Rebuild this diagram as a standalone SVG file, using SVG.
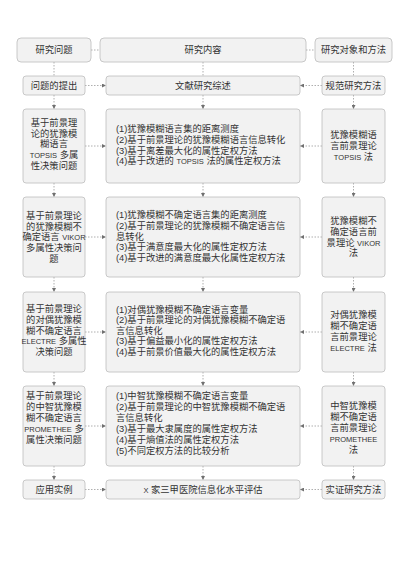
<svg xmlns="http://www.w3.org/2000/svg" width="400" height="566" viewBox="0 0 400 566">
<defs>
<style>
.box{fill:#f2f2f2;stroke:#bdbdbd;stroke-width:0.8}
.t{font-family:"Liberation Sans","Noto Sans CJK SC",sans-serif;font-size:9.3px;fill:#333}
.c{text-anchor:middle}
.lat{font-family:"Liberation Sans",sans-serif;font-size:7.5px}
.ln{fill:none;stroke:#9a9a9a;stroke-width:0.8;stroke-dasharray:1.5 1.5}
</style>
<marker id="ah" viewBox="0 0 4 4" refX="4" refY="2" markerWidth="4" markerHeight="4" markerUnits="userSpaceOnUse" orient="auto">
<path d="M0,0 L4,2 L0,4 z" fill="#707070"/>
</marker>
</defs>
<rect width="400" height="566" fill="#fff"/>

<g id="connectors">
<line class="ln" x1="91" y1="50" x2="100" y2="50"/>
<line class="ln" x1="306" y1="50" x2="315" y2="50"/>
<line class="ln" x1="54" y1="62" x2="54" y2="76"/>
<line class="ln" x1="203" y1="62" x2="203" y2="76"/>
<line class="ln" x1="353.5" y1="62" x2="353.5" y2="76"/>
<g marker-end="url(#ah)">
<line class="ln" x1="54" y1="95" x2="54" y2="109"/>
<line class="ln" x1="203" y1="95" x2="203" y2="109"/>
<line class="ln" x1="353.5" y1="95" x2="353.5" y2="109"/>
<line class="ln" x1="54" y1="183" x2="54" y2="197"/>
<line class="ln" x1="203" y1="183" x2="203" y2="197"/>
<line class="ln" x1="353.5" y1="183" x2="353.5" y2="197"/>
<line class="ln" x1="54" y1="277" x2="54" y2="292"/>
<line class="ln" x1="203" y1="277" x2="203" y2="292"/>
<line class="ln" x1="353.5" y1="277" x2="353.5" y2="292"/>
<line class="ln" x1="54" y1="372" x2="54" y2="386"/>
<line class="ln" x1="203" y1="372" x2="203" y2="386"/>
<line class="ln" x1="353.5" y1="372" x2="353.5" y2="386"/>
<line class="ln" x1="54" y1="466" x2="54" y2="480"/>
<line class="ln" x1="203" y1="466" x2="203" y2="480"/>
<line class="ln" x1="353.5" y1="466" x2="353.5" y2="480"/>
<line class="ln" x1="85" y1="85.5" x2="106" y2="85.5"/>
<line class="ln" x1="322" y1="85.5" x2="300" y2="85.5"/>
<line class="ln" x1="85" y1="146" x2="106" y2="146"/>
<line class="ln" x1="322" y1="146" x2="300" y2="146"/>
<line class="ln" x1="85" y1="237" x2="106" y2="237"/>
<line class="ln" x1="322" y1="237" x2="300" y2="237"/>
<line class="ln" x1="85" y1="332" x2="106" y2="332"/>
<line class="ln" x1="322" y1="332" x2="300" y2="332"/>
<line class="ln" x1="85" y1="426" x2="106" y2="426"/>
<line class="ln" x1="322" y1="426" x2="300" y2="426"/>
<line class="ln" x1="85" y1="489.5" x2="106" y2="489.5"/>
<line class="ln" x1="322" y1="489.5" x2="300" y2="489.5"/>
</g>
</g>

<g id="h-problem"><rect class="box" x="17" y="38" width="74" height="24" rx="4"/><text class="t c" x="54" y="53.3">研究问题</text></g>
<g id="h-content"><rect class="box" x="100" y="38" width="206" height="24" rx="4"/><text class="t c" x="203" y="53.3">研究内容</text></g>
<g id="h-method"><rect class="box" x="315" y="38" width="77" height="24" rx="4"/><text class="t c" x="353.5" y="53.3">研究对象和方法</text></g>

<g id="a-left"><rect class="box" x="23" y="76" width="62" height="19" rx="3"/><text class="t c" x="54" y="88.8">问题的提出</text></g>
<g id="a-mid"><rect class="box" x="106" y="76" width="194" height="19" rx="3"/><text class="t c" x="203" y="88.8">文献研究综述</text></g>
<g id="a-right"><rect class="box" x="322" y="76" width="63" height="19" rx="3"/><text class="t c" x="353.5" y="88.8">规范研究方法</text></g>

<g id="r1-left"><rect class="box" x="23" y="109" width="62" height="74" rx="3"/>
<text class="t c"><tspan x="54" y="125.8">基于前景理</tspan><tspan x="54" y="136.5">论的犹豫模</tspan><tspan x="54" y="147.2">糊语言</tspan><tspan x="54" y="157.9"><tspan class="lat">TOPSIS</tspan> 多属</tspan><tspan x="54" y="168.6">性决策问题</tspan></text></g>
<g id="r1-mid"><rect class="box" x="106" y="109" width="194" height="74" rx="3"/>
<text class="t"><tspan x="116" y="132.3">(1)犹豫模糊语言集的距离测度</tspan><tspan x="116" y="142.9">(2)基于前景理论的犹豫模糊语言信息转化</tspan><tspan x="116" y="153.5">(3)基于离差最大化的属性定权方法</tspan><tspan x="116" y="164.1">(4)基于改进的 <tspan class="lat">TOPSIS</tspan> 法的属性定权方法</tspan></text></g>
<g id="r1-right"><rect class="box" x="322" y="109" width="63" height="74" rx="3"/>
<text class="t c"><tspan x="353.5" y="138.3">犹豫模糊语</tspan><tspan x="353.5" y="149.3">言前景理论</tspan><tspan x="353.5" y="160"><tspan class="lat">TOPSIS</tspan> 法</tspan></text></g>

<g id="r2-left"><rect class="box" x="23" y="197" width="62" height="80" rx="3"/>
<text class="t c"><tspan x="54" y="218.8">基于前景理论</tspan><tspan x="54" y="229.5">的犹豫模糊不</tspan><tspan x="54" y="240.2">确定语言 <tspan class="lat">VIKOR</tspan></tspan><tspan x="54" y="250.9">多属性决策问</tspan><tspan x="54" y="261.6">题</tspan></text></g>
<g id="r2-mid"><rect class="box" x="106" y="197" width="194" height="80" rx="3"/>
<text class="t"><tspan x="116" y="218.3">(1)犹豫模糊不确定语言集的距离测度</tspan><tspan x="116" y="229">(2)基于前景理论的犹豫模糊不确定语言信</tspan><tspan x="116" y="239.7">息转化</tspan><tspan x="116" y="250.4">(3)基于满意度最大化的属性定权方法</tspan><tspan x="116" y="261.1">(4)基于改进的满意度最大化属性定权方法</tspan></text></g>
<g id="r2-right"><rect class="box" x="322" y="197" width="63" height="80" rx="3"/>
<text class="t c"><tspan x="353.5" y="224.3">犹豫模糊不</tspan><tspan x="353.5" y="235">确定语言前</tspan><tspan x="353.5" y="245.7">景理论 <tspan class="lat">VIKOR</tspan></tspan><tspan x="353.5" y="256.4">法</tspan></text></g>

<g id="r3-left"><rect class="box" x="23" y="292" width="62" height="80" rx="3"/>
<text class="t c"><tspan x="54" y="312.3">基于前景理论</tspan><tspan x="54" y="323">的对偶犹豫模</tspan><tspan x="54" y="333.7">糊不确定语言</tspan><tspan x="54" y="344.4"><tspan class="lat">ELECTRE</tspan> 多属性</tspan><tspan x="54" y="355.1">决策问题</tspan></text></g>
<g id="r3-mid"><rect class="box" x="106" y="292" width="194" height="80" rx="3"/>
<text class="t"><tspan x="116" y="312.5">(1)对偶犹豫模糊不确定语言变量</tspan><tspan x="116" y="323.1">(2)基于前景理论的对偶犹豫模糊不确定语</tspan><tspan x="116" y="333.7">言信息转化</tspan><tspan x="116" y="344.3">(3)基于偏益最小化的属性定权方法</tspan><tspan x="116" y="354.9">(4)基于前景价值最大化的属性定权方法</tspan></text></g>
<g id="r3-right"><rect class="box" x="322" y="292" width="63" height="80" rx="3"/>
<text class="t c"><tspan x="353.5" y="318.3">对偶犹豫模</tspan><tspan x="353.5" y="329">糊不确定语</tspan><tspan x="353.5" y="340">言前景理论</tspan><tspan x="353.5" y="351"><tspan class="lat">ELECTRE</tspan> 法</tspan></text></g>

<g id="r4-left"><rect class="box" x="23" y="386" width="62" height="80" rx="3"/>
<text class="t c"><tspan x="54" y="399.3">基于前景理论</tspan><tspan x="54" y="410.3">的中智犹豫模</tspan><tspan x="54" y="421.3">糊不确定语言</tspan><tspan x="54" y="432.3"><tspan class="lat">PROMETHEE</tspan> 多</tspan><tspan x="54" y="443.3">属性决策问题</tspan></text></g>
<g id="r4-mid"><rect class="box" x="106" y="386" width="194" height="80" rx="3"/>
<text class="t"><tspan x="116" y="399.3">(1)中智犹豫模糊不确定语言变量</tspan><tspan x="116" y="410.3">(2)基于前景理论的中智犹豫模糊不确定语</tspan><tspan x="116" y="421.3">言信息转化</tspan><tspan x="116" y="432.3">(3)基于最大隶属度的属性定权方法</tspan><tspan x="116" y="443.3">(4)基于熵值法的属性定权方法</tspan><tspan x="116" y="454.3">(5)不同定权方法的比较分析</tspan></text></g>
<g id="r4-right"><rect class="box" x="322" y="386" width="63" height="80" rx="3"/>
<text class="t c"><tspan x="353.5" y="409.3">中智犹豫模</tspan><tspan x="353.5" y="420.3">糊不确定语</tspan><tspan x="353.5" y="431.3">言前景理论</tspan><tspan x="353.5" y="442.3" class="lat">PROMETHEE</tspan><tspan x="353.5" y="453.3">法</tspan></text></g>

<g id="b-left"><rect class="box" x="23" y="480" width="62" height="19" rx="3"/><text class="t c" x="54" y="492.8">应用实例</text></g>
<g id="b-mid"><rect class="box" x="106" y="480" width="194" height="19" rx="3"/><text class="t c" x="203" y="492.8"><tspan class="lat">X</tspan> 家三甲医院信息化水平评估</text></g>
<g id="b-right"><rect class="box" x="322" y="480" width="63" height="19" rx="3"/><text class="t c" x="353.5" y="492.8">实证研究方法</text></g>
</svg>
